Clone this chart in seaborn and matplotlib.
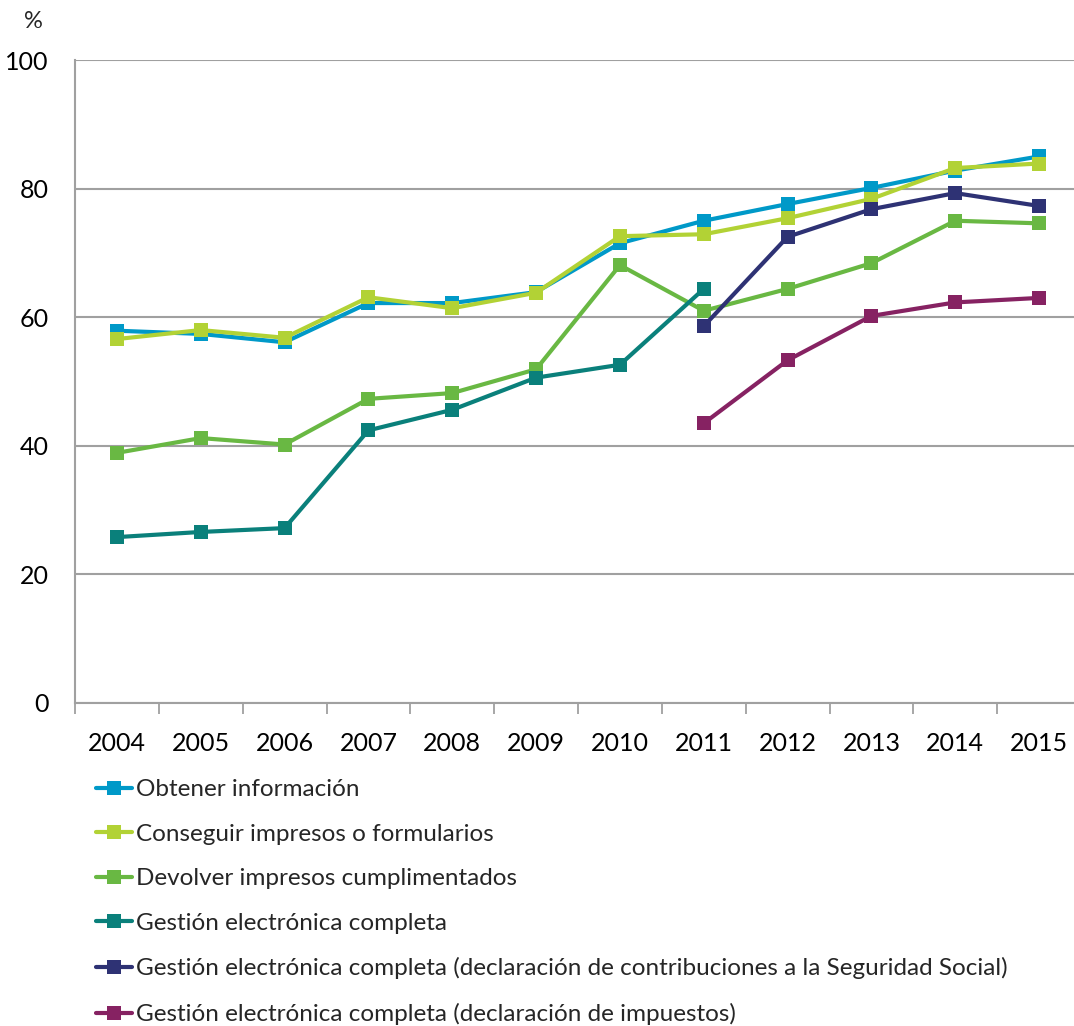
import numpy as np
import pandas as pd
import matplotlib
matplotlib.use("Agg")
import matplotlib.pyplot as plt
import seaborn as sns

years = [2004, 2005, 2006, 2007, 2008, 2009, 2010, 2011, 2012, 2013, 2014, 2015]

obtener_informacion = [57.9, 57.4, 56.1, 62.2, 62.2, 63.9, 71.5, 75.0, 77.6, 80.1, 82.8, 85.0]
conseguir_impresos = [56.6, 58.0, 56.8, 63.1, 61.4, 63.8, 72.6, 72.9, 75.4, 78.4, 83.2, 83.9]
devolver_impresos = [38.9, 41.2, 40.2, 47.3, 48.2, 51.9, 68.1, 61.0, 64.4, 68.4, 75.0, 74.6]
gestion_completa = [25.8, 26.6, 27.2, 42.4, 45.6, 50.6, 52.6, 64.4]
gestion_seg_social = [58.6, 72.5, 76.8, 79.3, 77.3]
gestion_impuestos = [43.5, 53.3, 60.2, 62.3, 63.0]

series_names = [
    "Obtener información",
    "Conseguir impresos o formularios",
    "Devolver impresos cumplimentados",
    "Gestión electrónica completa",
    "Gestión electrónica completa (declaración de contribuciones a la Seguridad Social)",
    "Gestión electrónica completa (declaración de impuestos)",
]
series_years = [years, years, years, years[:8], years[7:], years[7:]]
series_values = [obtener_informacion, conseguir_impresos, devolver_impresos,
                 gestion_completa, gestion_seg_social, gestion_impuestos]
colors = ["#0099C8", "#B2D235", "#69B843", "#0A807B", "#2E3274", "#862262"]

rows = []
for name, yrs, vals in zip(series_names, series_years, series_values):
    for yr, v in zip(yrs, vals):
        rows.append({"Año": yr, "Valor": v, "Serie": name})
df = pd.DataFrame(rows)

sns.set_theme(style="white")
plt.rcParams["font.family"] = ["Lato", "DejaVu Sans"]

fig = plt.figure(figsize=(10.74, 10.26), dpi=100)
W, H = 1074, 1026
left, right, top, bottom = 75, 1081, 60, 703
ax = fig.add_axes([left / W, 1 - bottom / H, (right - left) / W, (bottom - top) / H])

sns.lineplot(data=df, x="Año", y="Valor", hue="Serie", hue_order=series_names,
             palette=colors, style="Serie", style_order=series_names,
             markers=["s"] * 6, dashes=False, linewidth=3.0, markersize=10.5,
             markeredgewidth=0, ax=ax, legend=True)

ax.set_xlim(2003.5, 2015.5)
ax.set_ylim(0, 100)
ax.set_yticks([0, 20, 40, 60, 80, 100])
ax.set_xticks(years)
ax.set_xticklabels([str(y) for y in years])
ax.set_xticks(np.arange(2003.5, 2016, 1.0), minor=True)
ax.tick_params(axis="x", which="major", length=0, pad=21, labelsize=18, colors="black")
ax.tick_params(axis="x", which="minor", length=8, width=1.3, color="#A0A0A0",
               direction="out", bottom=True)
ax.tick_params(axis="y", which="major", length=7, width=1.3, direction="out",
               pad=12, labelsize=18, labelcolor="black", color="#A0A0A0")
ax.grid(axis="y", color="#A0A0A0", linewidth=1.5)
ax.set_axisbelow(True)
for s in ["top", "right"]:
    ax.spines[s].set_visible(False)
for s in ["left", "bottom"]:
    ax.spines[s].set_color("#A0A0A0")
    ax.spines[s].set_linewidth(1.5)
ax.set_xlabel("")
ax.set_ylabel("")

fig.text(33 / W, 1 - 22 / H, "%", fontsize=17, ha="center", va="center")

handles, labels = ax.get_legend_handles_labels()
ax.legend(handles, labels, loc="upper left", bbox_to_anchor=(96 / W, 1 - 779 / H),
          bbox_transform=fig.transFigure, frameon=False, fontsize=17.5,
          handlelength=1.5, handletextpad=0.16, labelspacing=0.97,
          borderaxespad=0, borderpad=0)

fig.savefig("out.png", dpi=100)
